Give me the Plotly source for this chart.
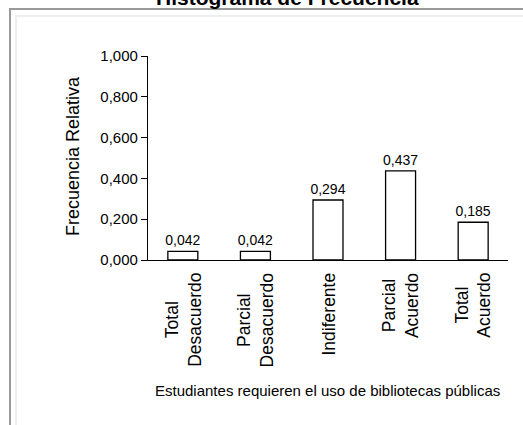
import plotly.graph_objects as go

categories = ["Total<br>Desacuerdo", "Parcial<br>Desacuerdo", "Indiferente", "Parcial<br>Acuerdo", "Total<br>Acuerdo"]
values = [0.042, 0.042, 0.294, 0.437, 0.185]
y_ticks = [0, 0.2, 0.4, 0.6, 0.8, 1.0]

W, H = 523, 425
L, R, T, B = 148, 15, 56, 165
pw, ph = W - L - R, H - T - B

def px(x):
    return (x - L) / pw

def py(y):
    return (H - B - y) / ph

FONT = "Liberation Sans, Arial, sans-serif"
xs = list(range(len(categories)))

fig = go.Figure()
fig.add_trace(go.Bar(
    x=xs, y=values, width=0.413,
    marker=dict(color="white", line=dict(color="black", width=1.3)),
    texttemplate="%{y:.3f}", textposition="outside", cliponaxis=False,
    constraintext="none",
    textfont=dict(size=14, color="black", family=FONT),
))

annotations = []
for i, c in zip(xs, categories):
    annotations.append(dict(x=i, xref="x", y=0, yref="paper", yshift=-11,
                            text=c, textangle=-90, showarrow=False,
                            xanchor="center", yanchor="top", align="center",
                            font=dict(size=17.5, color="black", family=FONT)))
annotations.append(dict(x=px(327), y=py(390), xref="paper", yref="paper",
                        text="Estudiantes requieren el uso de bibliotecas públicas",
                        showarrow=False, xanchor="center", yanchor="middle",
                        font=dict(size=15, color="black", family=FONT)))
annotations.append(dict(x=px(73), y=py(156), xref="paper", yref="paper",
                        text="Frecuencia Relativa", textangle=-90,
                        showarrow=False, xanchor="center", yanchor="middle",
                        font=dict(size=18, color="black", family=FONT)))
annotations.append(dict(x=px(287.5), y=py(-2.5), xref="paper", yref="paper",
                        text="<b>Histograma de Frecuencia</b>",
                        showarrow=False, xanchor="center", yanchor="middle",
                        font=dict(size=21, color="black", family=FONT)))

shapes = [
    dict(type="line", xref="paper", yref="paper", x0=px(10), x1=px(540), y0=py(9), y1=py(9),
         line=dict(color="#9a9a9a", width=2)),
    dict(type="line", xref="paper", yref="paper", x0=px(10), x1=px(10), y0=py(8), y1=py(440),
         line=dict(color="#9a9a9a", width=2)),
    dict(type="line", xref="paper", yref="paper", x0=px(16), x1=px(540), y0=py(16), y1=py(16),
         line=dict(color="#eeeeee", width=2)),
    dict(type="line", xref="paper", yref="paper", x0=px(16), x1=px(16), y0=py(15), y1=py(440),
         line=dict(color="#eeeeee", width=2)),
]

fig.update_layout(
    width=W, height=H,
    margin=dict(l=L, r=R, t=T, b=B, autoexpand=False),
    paper_bgcolor="white", plot_bgcolor="white",
    separators=",.",
    showlegend=False,
    annotations=annotations,
    shapes=shapes,
    bargap=0.5,
    font=dict(family=FONT, color="black"),
)
fig.update_xaxes(range=[-0.48, 4.48], showline=True, linecolor="black", linewidth=1.3,
                 ticks="", showticklabels=False, showgrid=False, zeroline=False, fixedrange=True)
fig.update_yaxes(range=[0, 1], tickvals=y_ticks, tickformat=".3f", showline=True,
                 linecolor="black", linewidth=1.3, ticks="outside", ticklen=6, tickwidth=1.3,
                 tickcolor="black", showgrid=False, zeroline=False,
                 tickfont=dict(size=15, color="black", family=FONT), fixedrange=True)

fig.write_html("out.html", config={"displayModeBar": False},
               post_script="document.body.style.margin='0';document.body.style.overflow='hidden';")
